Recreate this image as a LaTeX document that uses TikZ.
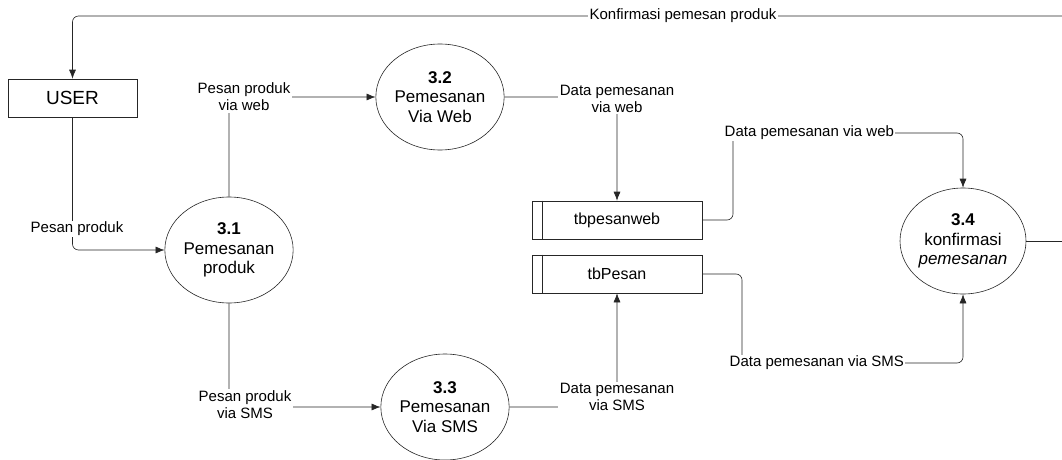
\documentclass[tikz,border=0pt]{standalone}
\usepackage{fontspec}
\setmainfont{Liberation Sans}
\usetikzlibrary{shapes.geometric,arrows.meta}
\begin{document}
\begin{tikzpicture}[x=1pt,y=-1pt,
  line/.style={draw=black!85, line width=0.6pt},
  flow/.style={line, rounded corners=6pt, -{Latex[length=9pt,width=7pt]}},
  proc/.style={ellipse, draw=black!85, line width=0.6pt, minimum width=126pt, minimum height=106pt, inner sep=0pt, align=center, font=\fontsize{17}{19.5}\selectfont},
  ext/.style={rectangle, draw=black!85, line width=0.6pt, minimum width=129pt, minimum height=38pt, inner sep=0pt, font=\fontsize{19}{22}\selectfont},
  store/.style={rectangle, draw=black!85, line width=0.6pt, minimum width=170pt, minimum height=38pt, inner sep=0pt, font=\fontsize{16}{19}\selectfont},
  lbl/.style={fill=white, inner sep=1.5pt, align=center, font=\fontsize{15}{17}\selectfont}]
\useasboundingbox (0,0) rectangle (1062,460);

% nodes
\node[ext] (user) at (72.5,98) {USER};
\node[proc] (p31) at (229,250) {\textbf{3.1}\\Pemesanan\\produk};
\node[proc] (p32) at (440,97) {\textbf{3.2}\\Pemesanan\\Via Web};
\node[proc] (p33) at (445,407) {\textbf{3.3}\\Pemesanan\\Via SMS};
\node[proc] (p34) at (963,241) {\textbf{3.4}\\konfirmasi\\\textit{pemesanan}};
\node[store] (web) at (617,220) {tbpesanweb};
\node[store] (pes) at (617,274) {tbPesan};
\draw[line] ([xshift=11pt]web.north west) -- ([xshift=11pt]web.south west);
\draw[line] ([xshift=11pt]pes.north west) -- ([xshift=11pt]pes.south west);

\coordinate (rt) at (1062,16);
\coordinate (rb) at (1062,241);

% connectors
\draw[flow] (rt) -- (72.5,16) -- (user.north);
\node[lbl] (l0) at (683,16) {Konfirmasi pemesan produk};

\draw[flow] (user.south) -- (72.5,250) -- (p31.west);
\node[lbl] (l1) at (77,229) {Pesan produk};

\draw[flow] (p31.north) -- (229,97) -- (p32.west);
\node[lbl] (l2) at (244,97) {Pesan produk\\via web};

\draw[flow] (p32.east) -- (617,97) -- (web.north);
\node[lbl] (l3) at (617,99) {Data pemesanan\\via web};

\draw[flow] (web.east) -- (733,220) -- (733,133) -- (963,133) -- (p34.north);
\node[lbl, anchor=west] (l4) at (723,133) {Data pemesanan via web};

\draw[line] (p34.east) -- (rb);

\draw[flow] (pes.east) -- (742,274) -- (742,363) -- (963,363) -- (p34.south);
\node[lbl, anchor=west] (l5) at (728,363) {Data pemesanan via SMS};

\draw[flow] (p31.south) -- (229,407) -- (p33.west);
\node[lbl] (l6) at (245,405) {Pesan produk\\via SMS};

\draw[flow] (p33.east) -- (617,407) -- (pes.south);
\node[lbl] (l7) at (617,397) {Data pemesanan\\via SMS};
\end{tikzpicture}
\end{document}
